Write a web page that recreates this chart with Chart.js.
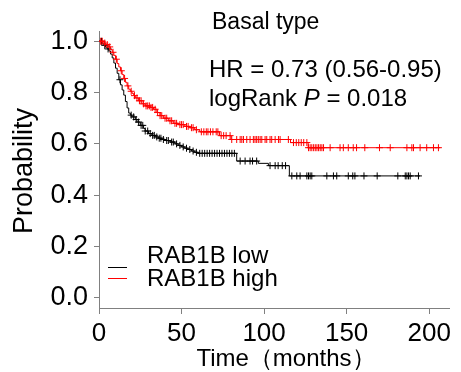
<!DOCTYPE html>
<html>
<head>
<meta charset="utf-8">
<script src="https://cdn.jsdelivr.net/npm/chart.js@4.4.1/dist/chart.umd.min.js"></script>
<style>
html,body{margin:0;padding:0;background:#fff;}
canvas{display:block;}
</style>
</head>
<body>
<canvas id="c" width="461" height="372"></canvas>
<script>
// ---- data ----
const xTicks = [0, 50, 100, 150, 200];
const yTicks = [0.0, 0.2, 0.4, 0.6, 0.8, 1.0];

// RAB1B low: event times (months) and survival after each event
const lowTimes = [0, 2, 3, 4, 5, 6, 7, 8, 9, 10, 11, 12, 13, 14, 15, 16, 17, 18, 19, 20, 22, 23, 25, 27, 28, 30, 32, 34, 36, 38, 40, 43, 46, 48, 50, 52, 54, 56, 58, 60, 83.4, 96.5, 102.6, 115.3, 194.5];
const lowSurv  = [1.0, 0.99, 0.984, 0.977, 0.97, 0.962, 0.95, 0.935, 0.915, 0.895, 0.875, 0.85, 0.83, 0.81, 0.79, 0.765, 0.74, 0.72, 0.712, 0.705, 0.695, 0.685, 0.672, 0.66, 0.65, 0.64, 0.633, 0.627, 0.622, 0.617, 0.613, 0.607, 0.6, 0.594, 0.588, 0.583, 0.578, 0.572, 0.567, 0.563, 0.533, 0.524, 0.515, 0.475, 0.475];
const lowCensor = [1.5, 3.5, 5.5, 12.7, 19.5, 21, 22.5, 24, 25.5, 26.5, 28, 29.5, 31, 32.5, 33.5, 35, 36.5, 37.5, 39, 41, 42, 44, 45, 47, 49, 51, 53, 55, 57, 59, 61, 62.5, 64, 65.5, 67, 68.5, 70, 71.5, 73, 74.5, 76, 77.5, 79, 80.5, 82, 85.5, 88.5, 91.5, 93, 95.5, 103.6, 106.7, 108.5, 111, 113, 116.8, 119.8, 121.8, 125.9, 126.9, 127.9, 128.9, 138, 142, 144, 151, 153.7, 155, 160.5, 168.5, 181, 185.5, 186.5, 187.5, 188.5, 193.5];

// RAB1B high
const highTimes = [0, 3, 4, 6, 7, 8, 9, 10, 11, 12, 13, 14, 15, 16, 17, 18, 19, 20, 21, 22, 24, 26, 28, 31, 33, 35, 37, 39, 42, 45, 48, 52, 55, 58, 61, 73, 80, 116, 126.7, 206.7];
const highSurv  = [1.0, 0.993, 0.987, 0.978, 0.968, 0.957, 0.945, 0.93, 0.913, 0.9, 0.885, 0.87, 0.855, 0.84, 0.826, 0.813, 0.805, 0.797, 0.788, 0.779, 0.768, 0.756, 0.748, 0.742, 0.735, 0.722, 0.71, 0.7, 0.69, 0.68, 0.675, 0.668, 0.663, 0.655, 0.647, 0.632, 0.617, 0.605, 0.585, 0.585];
const highCensor = [1, 2, 3.5, 5, 6.5, 8.5, 10.5, 13.5, 15.5, 17.5, 19.5, 21.5, 23, 24.5, 25.5, 27, 28.5, 29.5, 30.5, 31.5, 32.5, 34, 35.5, 37, 38, 40, 41, 43, 44, 46, 47, 49, 50, 51, 53, 54, 56, 57, 59, 62, 63.5, 65, 66, 67.5, 69, 71, 72, 74, 75.5, 77, 79.4, 80.4, 83.4, 85.5, 86.5, 87.5, 89.5, 91.5, 93.5, 94.5, 95.5, 96.5, 97.6, 98.6, 100.6, 101.6, 103.6, 104.6, 106.7, 108.7, 109.7, 114.7, 117.8, 119.5, 121, 122.5, 124, 125.9, 126.9, 127.9, 128.9, 130, 131, 132, 133, 134, 135, 136, 140, 146, 148, 151, 154, 156, 161, 169.9, 176.4, 186.5, 189.5, 190.5, 194.5, 198.5, 202.6, 205.6];

const legendLabels = ['RAB1B low', 'RAB1B high'];
const colors = ['#000000', '#ff0000'];

// ---- helpers ----
function survAt(times, surv, t) {
  let s = surv[0];
  for (let i = 0; i < times.length; i++) { if (times[i] <= t) s = surv[i]; else break; }
  return s;
}
const toPts = (ts, ss) => ts.map((t, i) => ({x: t, y: ss[i]}));
const censorPts = (cs, ts, ss) => cs.map(t => ({x: t, y: survAt(ts, ss, t)}));

const FONT = "'Liberation Sans', Arial, Helvetica, sans-serif";
const AXIS = '#808080';

const textPlugin = {
  id: 'texts',
  afterDraw(chart) {
    const ctx = chart.ctx;
    ctx.save();
    ctx.fillStyle = '#000';
    ctx.textBaseline = 'alphabetic';
    ctx.textAlign = 'left';
    ctx.font = "23px " + FONT;
    ctx.fillText('Basal type', 212, 29);
    ctx.font = "24px " + FONT;
    ctx.fillText('HR = 0.73 (0.56-0.95)', 209, 77);
    // logRank P = 0.018 with italic P
    let x = 209, y = 106;
    ctx.font = "24px " + FONT;
    ctx.fillText('logRank ', x, y); x += ctx.measureText('logRank ').width;
    ctx.font = "italic 24px " + FONT;
    ctx.fillText('P', x, y); x += ctx.measureText('P').width;
    ctx.font = "24px " + FONT;
    ctx.fillText(' = 0.018', x, y);
    // legend
    ctx.font = "24px " + FONT;
    ctx.fillText(legendLabels[0], 147, 263);
    ctx.fillText(legendLabels[1], 147, 286);
    ctx.lineWidth = 1;
    ctx.strokeStyle = colors[0];
    ctx.beginPath(); ctx.moveTo(108, 267.5); ctx.lineTo(127, 267.5); ctx.stroke();
    ctx.strokeStyle = colors[1];
    ctx.beginPath(); ctx.moveTo(108, 278.5); ctx.lineTo(127, 278.5); ctx.stroke();
    // axis titles
    ctx.textAlign = 'center';
    ctx.font = "24px " + FONT;
    ctx.fillText('Time（months）', 286, 366);
    ctx.font = "27px " + FONT;
    ctx.translate(32, 171);
    ctx.rotate(-Math.PI / 2);
    ctx.fillText('Probability', 0, 0);
    ctx.restore();
  }
};

new Chart(document.getElementById('c'), {
  type: 'scatter',
  data: {
    datasets: [
      {label: legendLabels[0], data: toPts(lowTimes, lowSurv), showLine: true, stepped: true,
       borderColor: colors[0], borderWidth: 1, pointRadius: 0, order: 2},
      {label: legendLabels[1], data: toPts(highTimes, highSurv), showLine: true, stepped: true,
       borderColor: colors[1], borderWidth: 1, pointRadius: 0, order: 1},
      {label: 'low censored', data: censorPts(lowCensor, lowTimes, lowSurv), showLine: false,
       pointStyle: 'cross', pointRadius: 3.5, borderColor: colors[0], borderWidth: 1, order: 2},
      {label: 'high censored', data: censorPts(highCensor, highTimes, highSurv), showLine: false,
       pointStyle: 'cross', pointRadius: 3.5, borderColor: colors[1], borderWidth: 1, order: 1}
    ]
  },
  options: {
    responsive: false,
    animation: false,
    devicePixelRatio: 1,
    layout: {padding: {top: 31, right: 12, bottom: 0, left: 0}},
    plugins: {legend: {display: false}, tooltip: {enabled: false}, title: {display: false}},
    scales: {
      x: {
        type: 'linear', min: 0, max: 212,
        afterBuildTicks: s => { s.ticks = xTicks.map(v => ({value: v})); },
        afterFit: s => { s.height = 64; },
        grid: {drawOnChartArea: false, color: AXIS, tickLength: 6, tickWidth: 1},
        border: {color: AXIS, width: 1},
        ticks: {color: '#000', font: {family: FONT, size: 26}, padding: 4, maxRotation: 0,
                callback: v => String(v)}
      },
      y: {
        type: 'linear', min: -0.04, max: 1.04,
        afterBuildTicks: s => { s.ticks = yTicks.map(v => ({value: v})); },
        afterFit: s => { s.width = 99; },
        grid: {drawOnChartArea: false, color: AXIS, tickLength: 5, tickWidth: 1},
        border: {color: AXIS, width: 1},
        ticks: {color: '#000', font: {family: FONT, size: 27}, padding: 6,
                callback: v => Number(v).toFixed(1)}
      }
    }
  },
  plugins: [textPlugin]
});
</script>
</body>
</html>
